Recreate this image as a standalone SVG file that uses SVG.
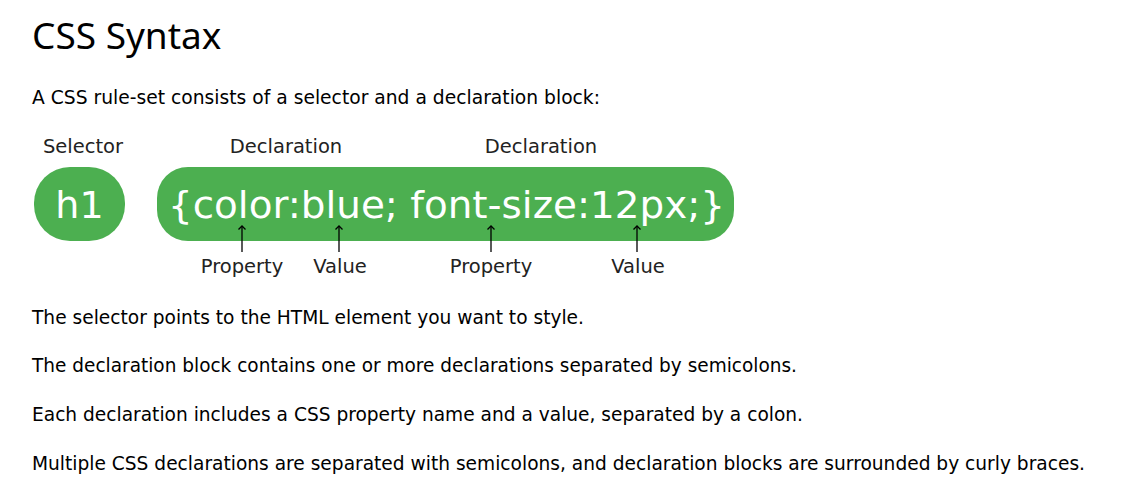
<svg xmlns="http://www.w3.org/2000/svg" width="1125" height="496" viewBox="0 0 1125 496">
<style>
text { font-family: "DejaVu Sans", Verdana, sans-serif; fill: #000; }
.title { font-family: "Noto Sans", "Open Sans", sans-serif; font-size: 37px; }
.p { font-size: 18.6px; }
.lbl { font-size: 19.5px; fill: #222; text-anchor: middle; }
.code { font-size: 38px; fill: #fff; }
.green { fill: #4caf50; }
.arr { stroke: #000; stroke-width: 1.3; fill: none; }
</style>
<defs>
<marker id="ah" viewBox="0 0 10 10" refX="9" refY="5" markerWidth="10" markerHeight="10" markerUnits="userSpaceOnUse" orient="auto">
<polyline points="5.5,1.5 9,5 5.5,8.5" fill="none" stroke="#000" stroke-width="1.3"/>
</marker>
</defs>
<rect width="1125" height="496" fill="#fff"/>
<text class="title" x="32" y="49">CSS Syntax</text>
<text class="p" x="32" y="104" textLength="568" lengthAdjust="spacingAndGlyphs">A CSS rule-set consists of a selector and a declaration block:</text>

<g id="selector">
<text class="lbl" x="83" y="153">Selector</text>
<rect class="green" x="34" y="167" width="91" height="74" rx="36" ry="36"/>
<text class="code" x="79.5" y="218" text-anchor="middle">h1</text>
</g>

<g id="declaration-block">
<text class="lbl" x="286" y="153">Declaration</text>
<text class="lbl" x="541" y="153">Declaration</text>
<rect class="green" x="157" y="167" width="577" height="74" rx="31" ry="31"/>
<text class="code" x="168" y="218" textLength="557" lengthAdjust="spacingAndGlyphs">{color:blue; font-size:12px;}</text>
</g>

<g id="connectors">
<line class="arr" x1="242" y1="252" x2="242" y2="226" marker-end="url(#ah)"/>
<line class="arr" x1="339" y1="252" x2="339" y2="226" marker-end="url(#ah)"/>
<line class="arr" x1="491" y1="252" x2="491" y2="226" marker-end="url(#ah)"/>
<line class="arr" x1="637" y1="252" x2="637" y2="226" marker-end="url(#ah)"/>
</g>

<g id="labels">
<text class="lbl" x="242" y="273">Property</text>
<text class="lbl" x="340" y="273">Value</text>
<text class="lbl" x="491" y="273">Property</text>
<text class="lbl" x="638" y="273">Value</text>
</g>

<text class="p" x="32" y="324" textLength="552" lengthAdjust="spacingAndGlyphs">The selector points to the HTML element you want to style.</text>
<text class="p" x="32" y="372" textLength="765" lengthAdjust="spacingAndGlyphs">The declaration block contains one or more declarations separated by semicolons.</text>
<text class="p" x="32" y="421" textLength="771" lengthAdjust="spacingAndGlyphs">Each declaration includes a CSS property name and a value, separated by a colon.</text>
<text class="p" x="32" y="470" textLength="1053" lengthAdjust="spacingAndGlyphs">Multiple CSS declarations are separated with semicolons, and declaration blocks are surrounded by curly braces.</text>
</svg>
